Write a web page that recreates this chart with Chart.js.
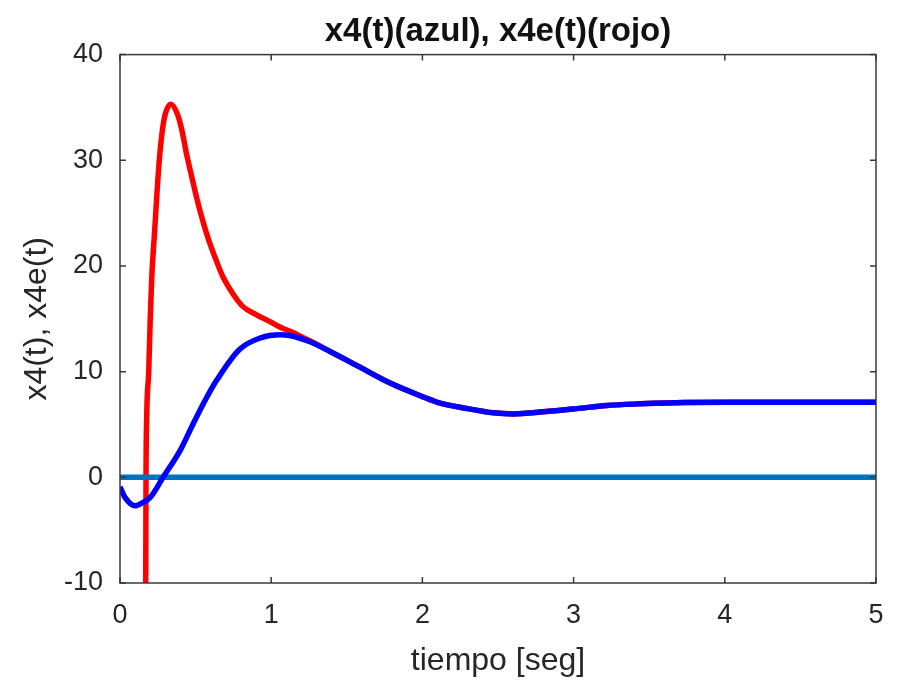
<!DOCTYPE html>
<html>
<head>
<meta charset="utf-8">
<script src="https://cdn.jsdelivr.net/npm/chart.js@4/dist/chart.umd.min.js"></script>
<style>
  body { margin: 0; background: #fff; }
  #wrap { width: 901px; height: 683px; }
</style>
</head>
<body>
<div id="wrap"><canvas id="c"></canvas></div>
<script>
// x4(t) - azul
const blueT = [0, 0.033, 0.1, 0.15, 0.2, 0.285, 0.4, 0.485, 0.575, 0.64, 0.79, 0.93, 1.06, 1.13, 1.26, 1.39, 1.59, 1.79, 1.99, 2.1, 2.3, 2.47, 2.6, 2.8, 3.02, 3.22, 3.44, 3.73, 4.0, 4.5, 5.0];
const blueY = [-0.9, -1.9, -2.7, -2.4, -1.9, 0, 2.6, 5.1, 7.6, 9.2, 12.1, 13.2, 13.5, 13.4, 12.8, 11.9, 10.4, 8.9, 7.7, 7.1, 6.5, 6.1, 6.0, 6.2, 6.5, 6.8, 6.95, 7.08, 7.1, 7.1, 7.1];

// x4e(t) - rojo
const redT = [0.16, 0.17, 0.172, 0.177, 0.19, 0.2, 0.21, 0.23, 0.245, 0.26, 0.28, 0.3, 0.336, 0.384, 0.41, 0.44, 0.475, 0.508, 0.541, 0.583, 0.629, 0.68, 0.75, 0.81, 0.9, 0.97, 1.06, 1.13, 1.2, 1.3, 1.39, 1.59, 1.79, 1.99, 2.1, 2.3, 2.47, 2.6, 2.8, 3.02, 3.22, 3.44, 3.73, 4.0, 4.5, 5.0];
const redY = [-14, -10, 0, 6, 10, 15, 18.9, 23.5, 27, 30, 32.8, 34.4, 35.3, 34.2, 32.8, 30.6, 28.4, 26.4, 24.6, 22.6, 20.8, 19.0, 17.3, 16.2, 15.4, 14.9, 14.2, 13.8, 13.3, 12.6, 11.9, 10.4, 8.9, 7.7, 7.1, 6.5, 6.1, 6.0, 6.2, 6.5, 6.8, 6.95, 7.08, 7.1, 7.1, 7.1];

// linea de cero
const zeroT = [0, 5];
const zeroY = [0, 0];

const xRange = [0, 5];
const yRange = [-10, 40];

const toPoints = (ts, ys) => ts.map((t, i) => ({ x: t, y: ys[i] }));

const FONT = "'Liberation Sans', Arial, sans-serif";
const AXIS = '#383838';

// caja con marcas hacia adentro (estilo matlab)
const boxPlugin = {
  id: 'box',
  afterDraw(chart) {
    const { ctx, chartArea: a, scales: { x, y } } = chart;
    const len = 6;
    ctx.save();
    ctx.strokeStyle = AXIS;
    ctx.lineWidth = 1.5;
    ctx.strokeRect(a.left, a.top, a.right - a.left, a.bottom - a.top);
    ctx.beginPath();
    x.ticks.forEach(t => {
      const px = x.getPixelForValue(t.value);
      ctx.moveTo(px, a.bottom); ctx.lineTo(px, a.bottom - len);
      ctx.moveTo(px, a.top); ctx.lineTo(px, a.top + len);
    });
    y.ticks.forEach(t => {
      const py = y.getPixelForValue(t.value);
      ctx.moveTo(a.left, py); ctx.lineTo(a.left + len, py);
      ctx.moveTo(a.right, py); ctx.lineTo(a.right - len, py);
    });
    ctx.stroke();
    ctx.restore();
  }
};

new Chart(document.getElementById('c'), {
  type: 'line',
  data: {
    datasets: [
      { label: 'x4(t)', data: toPoints(blueT, blueY), borderColor: '#0000ff', borderWidth: 5.5, cubicInterpolationMode: 'monotone', clip: 0 },
      { label: 'cero', data: toPoints(zeroT, zeroY), borderColor: '#0072bd', borderWidth: 5.5, clip: 0 },
      { label: 'x4e(t)', data: toPoints(redT, redY), borderColor: '#ff0000', borderWidth: 5.5, cubicInterpolationMode: 'monotone', clip: 0 }
    ]
  },
  options: {
    responsive: true,
    maintainAspectRatio: false,
    animation: false,
    elements: { point: { radius: 0 } },
    layout: { padding: { top: 0, right: 25, left: 0, bottom: 0 } },
    plugins: {
      legend: { display: false },
      tooltip: { enabled: false },
      title: {
        display: true,
        fullSize: false,
        text: 'x4(t)(azul), x4e(t)(rojo)',
        color: '#111',
        font: { family: FONT, size: 33, weight: 'bold' },
        padding: { top: 12, bottom: 3 }
      }
    },
    scales: {
      x: {
        type: 'linear',
        min: xRange[0],
        max: xRange[1],
        grid: { display: false },
        border: { display: false },
        ticks: { stepSize: 1, color: '#262626', padding: 8, font: { family: FONT, size: 27 } },
        title: { display: true, text: 'tiempo [seg]', color: '#262626', font: { family: FONT, size: 32 }, padding: { top: 0, bottom: 3 } },
        afterFit(s) { s.height = 100; }
      },
      y: {
        min: yRange[0],
        max: yRange[1],
        grid: { display: false },
        border: { display: false },
        ticks: { stepSize: 10, color: '#262626', padding: 9, font: { family: FONT, size: 27 } },
        title: { display: true, text: 'x4(t), x4e(t)', color: '#262626', font: { family: FONT, size: 32 }, padding: { top: 18, bottom: 0 } },
        afterFit(s) { s.width = 120; }
      }
    }
  },
  plugins: [boxPlugin]
});
</script>
</body>
</html>
